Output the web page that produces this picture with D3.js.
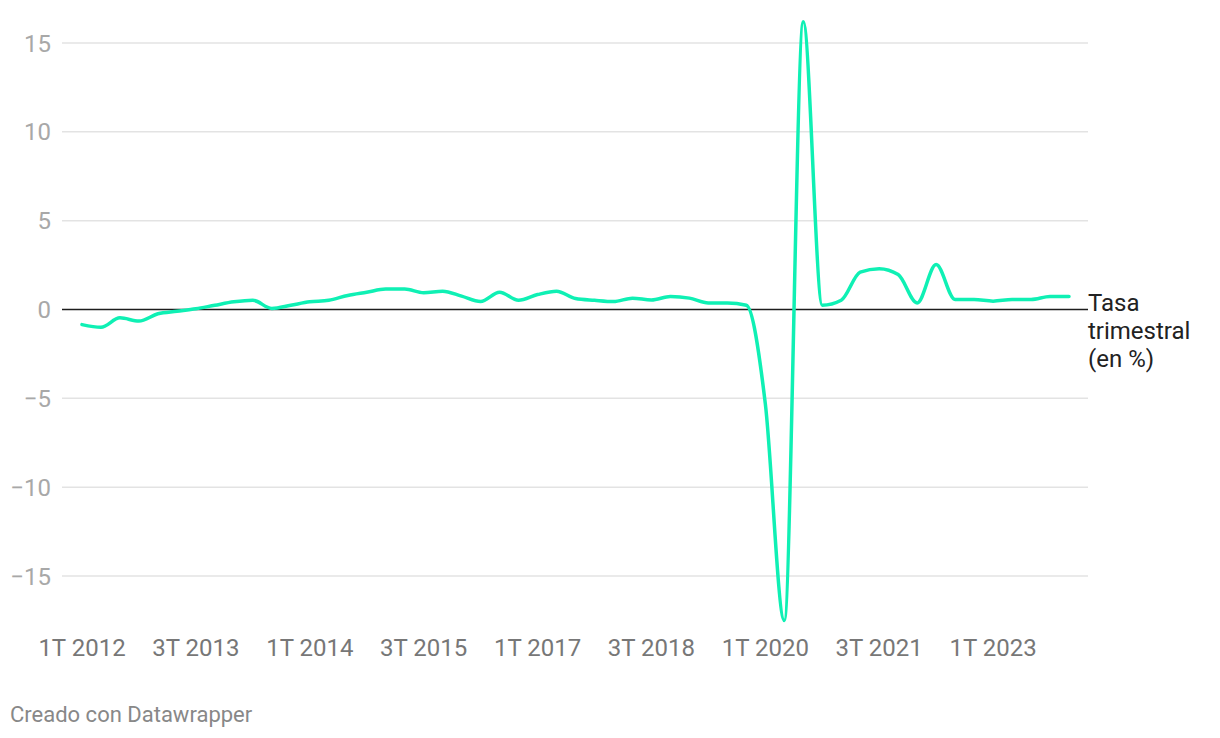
<!DOCTYPE html>
<html>
<head>
<meta charset="utf-8">
<script src="https://cdn.jsdelivr.net/npm/d3@7"></script>
<style>
  body { margin: 0; background: #fff; font-family: Roboto, "Noto Sans", sans-serif; }
</style>
</head>
<body>
<script>
// tasa trimestral del PIB, un valor por trimestre
const values = [
  -0.85, -1.0, -0.47, -0.65, -0.24, -0.1, 0.04, 0.24, 0.43, 0.52,
  0.06, 0.24, 0.43, 0.52, 0.79, 0.97, 1.15, 1.15, 0.94, 1.03,
  0.75, 0.45, 0.97, 0.52, 0.84, 1.03, 0.62, 0.52, 0.45, 0.64,
  0.54, 0.73, 0.64, 0.37, 0.37, 0.24, -5.3, -17.5, 16.2, 0.24,
  0.52, 2.1, 2.3, 1.97, 0.37, 2.53, 0.56, 0.56, 0.47, 0.56,
  0.56, 0.73, 0.73
];
// etiquetas del eje x (cada 6 trimestres)
const tickIndex = [0, 6, 12, 18, 24, 30, 36, 42, 48];
const tickLabels = ["1T 2012", "3T 2013", "1T 2014", "3T 2015", "1T 2017", "3T 2018", "1T 2020", "3T 2021", "1T 2023"];
const yTicks = [-15, -10, -5, 0, 5, 10, 15];

const width = 1220, height = 738;
const svg = d3.select("body").append("svg")
  .attr("width", width)
  .attr("height", height);

const x = d3.scaleLinear()
  .domain([0, values.length - 1])
  .range([82, 1069]);

const y = d3.scaleLinear()
  .domain([-15, 15])
  .range([576, 43]);

// grid
svg.append("g")
  .selectAll("line")
  .data(yTicks.filter(d => d !== 0))
  .enter().append("line")
  .attr("x1", 62).attr("x2", 1088)
  .attr("y1", d => y(d)).attr("y2", d => y(d))
  .attr("stroke", "#e3e3e3")
  .attr("stroke-width", 1.5);

// y labels
svg.append("g")
  .selectAll("text")
  .data(yTicks)
  .enter().append("text")
  .attr("x", 51)
  .attr("y", d => y(d))
  .attr("dy", "0.36em")
  .attr("text-anchor", "end")
  .attr("font-size", 24)
  .attr("fill", "#a8a8a8")
  .text(d => d < 0 ? "\u2212" + Math.abs(d) : d);

// x labels
svg.append("g")
  .selectAll("text")
  .data(tickIndex)
  .enter().append("text")
  .attr("x", d => x(d))
  .attr("y", 656)
  .attr("text-anchor", "middle")
  .attr("font-size", 24)
  .attr("fill", "#777")
  .text((d, i) => tickLabels[i]);

// zero line
svg.append("line")
  .attr("x1", 62).attr("x2", 1088)
  .attr("y1", y(0)).attr("y2", y(0))
  .attr("stroke", "#1d1d1d")
  .attr("stroke-width", 1.5);

// line
const line = d3.line()
  .x((d, i) => x(i))
  .y(d => y(d))
  .curve(d3.curveMonotoneX);

svg.append("path")
  .datum(values)
  .attr("d", line)
  .attr("fill", "none")
  .attr("stroke", "#0ff0b4")
  .attr("stroke-width", 3.5)
  .attr("stroke-linejoin", "round")
  .attr("stroke-linecap", "round");

// label
const lab = svg.append("text")
  .attr("x", 1088)
  .attr("y", y(0) + 1)
  .attr("font-size", 24)
  .attr("fill", "#222");
["Tasa", "trimestral", "(en %)"].forEach((t, i) => {
  lab.append("tspan").attr("x", 1088).attr("dy", i === 0 ? 0 : 28).text(t);
});

// credito
svg.append("text")
  .attr("x", 10)
  .attr("y", 722)
  .attr("font-size", 22)
  .attr("fill", "#888")
  .text("Creado con Datawrapper");
</script>
</body>
</html>
